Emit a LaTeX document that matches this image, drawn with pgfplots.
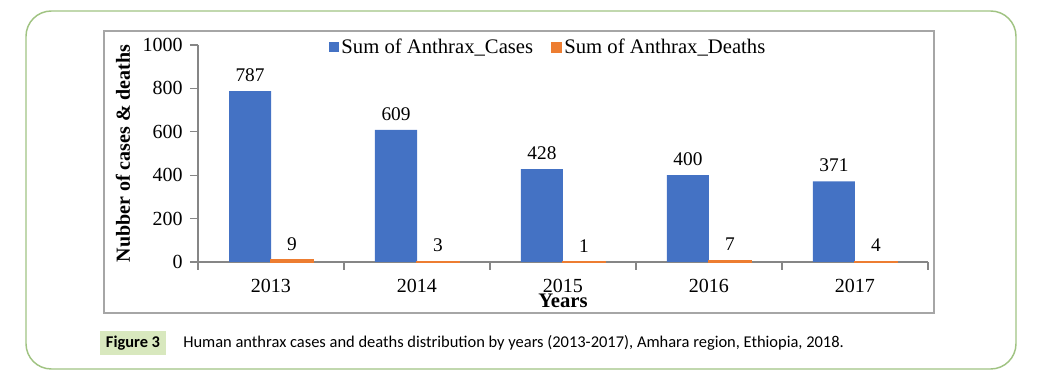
\documentclass[border=0pt]{standalone}
\usepackage{pgfplots}
\pgfplotsset{compat=1.18}
\usepackage{fontspec}
\setmainfont{Liberation Serif}
\newfontfamily\capfont{Carlito}
\definecolor{cblue}{RGB}{68,114,196}
\definecolor{corange}{RGB}{237,125,49}
\definecolor{axgray}{RGB}{134,134,134}
\definecolor{boxgray}{RGB}{166,166,166}
\definecolor{framegreen}{RGB}{160,195,130}
\definecolor{capgreen}{RGB}{216,232,190}
\begin{document}
\begin{tikzpicture}[x=0.75pt,y=0.75pt]
\useasboundingbox (0,0) rectangle (1057,392);
\draw[framegreen, line width=1.1pt, rounded corners=19pt] (26,23) rectangle (1016,381);
\draw[boxgray, line width=1.5pt] (104,79) rectangle (934,361);
\fill[capgreen] (100,37) rectangle (166,61);
\node[font=\capfont\bfseries\fontsize{12.3}{14}\selectfont, inner sep=0pt] at (133,49) {Figure 3};
\node[font=\capfont\fontsize{12.35}{14}\selectfont, inner sep=0pt, anchor=west] at (183,49) {Human anthrax cases and deaths distribution by years (2013-2017), Amhara region, Ethiopia, 2018.};
\begin{axis}[
  at={(148.5pt,97.5pt)}, anchor=south west,
  scale only axis, width=547.5pt, height=162.75pt,
  ymin=0, ymax=1000, xmin=-0.5, xmax=4.5, clip=false,
  axis lines=left, axis line style={-, draw=axgray, line width=0.8pt},
  tick style={draw=axgray, line width=0.8pt},
  tick align=outside, major tick length=6pt,
  ytick={0,200,400,600,800,1000},
  xtick={-0.5,0.5,1.5,2.5,3.5,4.5},
  x tick label as interval,
  xticklabels={2013,2014,2015,2016,2017},
  /pgf/number format/assume math mode=true,
  /pgf/number format/1000 sep={},
  ticklabel style={font=\fontsize{15}{18}\selectfont},
  yticklabel style={xshift=-2pt},
  xticklabel style={yshift=-3.5pt},
  ybar=0pt, bar width=31.5pt,
  nodes near coords,
  every node near coord/.append style={font=\fontsize{14.5}{17}\selectfont, yshift=3.5pt, black},
  ylabel={Nubber of cases \& deaths},
  ylabel style={font=\bfseries\fontsize{15}{18}\selectfont, at={(axis description cs:-0.1027,0.5)}, anchor=center},
  xlabel={Years},
  xlabel style={font=\bfseries\fontsize{15.5}{18}\selectfont, at={(axis description cs:0.5,-0.178)}, anchor=center},
  legend columns=2,
  legend style={at={(0.48,0.99)}, anchor=center, draw=none, fill=none,
    font=\fontsize{15.5}{18}\selectfont,
    /tikz/every even column/.append style={column sep=11pt}},
  legend image code/.code={\fill[#1] (0pt,-3.75pt) rectangle (7.5pt,3.75pt);},
]
\addplot[fill=cblue, draw=none] coordinates {(0,787) (1,609) (2,428) (3,400) (4,371)};
\addlegendentry{Sum of Anthrax\_Cases}
\addplot[fill=corange, draw=corange, line width=0.9pt] coordinates {(0,9) (1,3) (2,1) (3,7) (4,4)};
\addlegendentry{Sum of Anthrax\_Deaths}
\end{axis}
\end{tikzpicture}
\end{document}
